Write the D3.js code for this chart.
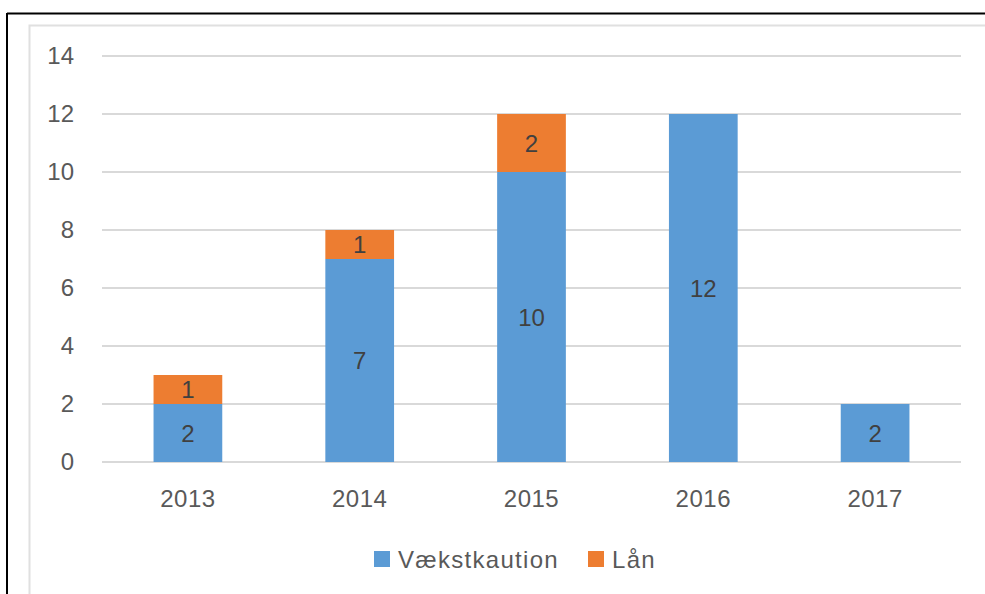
<!DOCTYPE html>
<html>
<head>
<meta charset="utf-8">
<script src="https://cdn.jsdelivr.net/npm/d3@7"></script>
<style>
  html, body { margin: 0; padding: 0; background: #fff; }
  svg { display: block; font-family: "Liberation Sans", Arial, sans-serif; }
</style>
</head>
<body>
<svg id="chart" width="985" height="594"></svg>
<script>
const years = ['2013', '2014', '2015', '2016', '2017'];
const vaekstkaution = [2, 7, 10, 12, 2];
const laan = [1, 1, 2, 0, 0];
const seriesNames = ['Vækstkaution', 'Lån'];
const seriesColors = ['#5b9bd5', '#ed7d31'];
const yTicks = [0, 2, 4, 6, 8, 10, 12, 14];

const svg = d3.select('#chart');
const margin = { top: 56, right: 24, bottom: 132, left: 102 };
const width = 985 - margin.left - margin.right;
const height = 594 - margin.top - margin.bottom;

// outer frame (black, top + left) and inner chart-area border
svg.append('line').attr('x1', 7).attr('x2', 985).attr('y1', 13.5).attr('y2', 13.5)
  .attr('stroke', '#000').attr('stroke-width', 2);
svg.append('line').attr('x1', 7).attr('x2', 7).attr('y1', 13).attr('y2', 594)
  .attr('stroke', '#000').attr('stroke-width', 2);
svg.append('path').attr('d', 'M29.5,594 V25.5 H985')
  .attr('fill', 'none').attr('stroke', '#e0e0e0').attr('stroke-width', 2);

const g = svg.append('g').attr('transform', `translate(${margin.left},${margin.top})`);

const x = d3.scaleBand()
  .domain(years)
  .range([0, width])
  .paddingInner(0.6)
  .paddingOuter(0.3);
const y = d3.scaleLinear()
  .domain([0, 14])
  .range([height, 0]);

// gridlines
g.append('g')
  .selectAll('line')
  .data(yTicks)
  .enter().append('line')
  .attr('x1', 0)
  .attr('x2', width)
  .attr('y1', d => y(d))
  .attr('y2', d => y(d))
  .attr('stroke', '#d9d9d9')
  .attr('stroke-width', 2);

// y axis labels
const gy = g.append('g').call(d3.axisLeft(y).tickValues(yTicks).tickSize(0).tickPadding(28));
gy.select('.domain').remove();
gy.selectAll('text')
  .attr('fill', '#595959')
  .style('font-size', '24px')
  .style('font-family', '"Liberation Sans", Arial, sans-serif');

// x axis labels
const gx = g.append('g')
  .attr('transform', `translate(0,${height})`)
  .call(d3.axisBottom(x).tickSize(0).tickPadding(28));
gx.select('.domain').remove();
gx.selectAll('text')
  .attr('fill', '#595959')
  .style('font-size', '24px')
  .style('letter-spacing', '0.5px')
  .style('font-family', '"Liberation Sans", Arial, sans-serif');

// stacked data
const table = years.map((yr, i) => ({ year: yr, 'Vækstkaution': vaekstkaution[i], 'Lån': laan[i] }));
const stacked = d3.stack().keys(seriesNames)(table);

const layers = g.selectAll('.layer')
  .data(stacked)
  .enter().append('g')
  .attr('class', 'layer')
  .attr('fill', (d, i) => seriesColors[i]);

layers.selectAll('rect')
  .data(d => d.filter(s => s[1] - s[0] > 0))
  .enter().append('rect')
  .attr('x', d => x(d.data.year))
  .attr('y', d => y(d[1]))
  .attr('width', x.bandwidth())
  .attr('height', d => y(d[0]) - y(d[1]));

layers.selectAll('text')
  .data(d => d.filter(s => s[1] - s[0] > 0))
  .enter().append('text')
  .attr('x', d => x(d.data.year) + x.bandwidth() / 2)
  .attr('y', d => (y(d[0]) + y(d[1])) / 2)
  .attr('text-anchor', 'middle')
  .attr('dominant-baseline', 'central')
  .attr('fill', '#404040')
  .style('font-size', '24px')
  .text(d => d[1] - d[0]);

// legend
const legend = svg.append('g').attr('transform', 'translate(374,559)');
const legendX = [0, 214];
seriesNames.forEach((name, i) => {
  const item = legend.append('g').attr('transform', `translate(${legendX[i]},0)`);
  item.append('rect')
    .attr('x', 0).attr('y', -8)
    .attr('width', 16).attr('height', 16)
    .attr('fill', seriesColors[i]);
  item.append('text')
    .attr('x', 24).attr('y', 0)
    .attr('dominant-baseline', 'central')
    .attr('fill', '#595959')
    .style('font-size', '24px')
    .style('letter-spacing', '1.3px')
    .text(name);
});
</script>
</body>
</html>
